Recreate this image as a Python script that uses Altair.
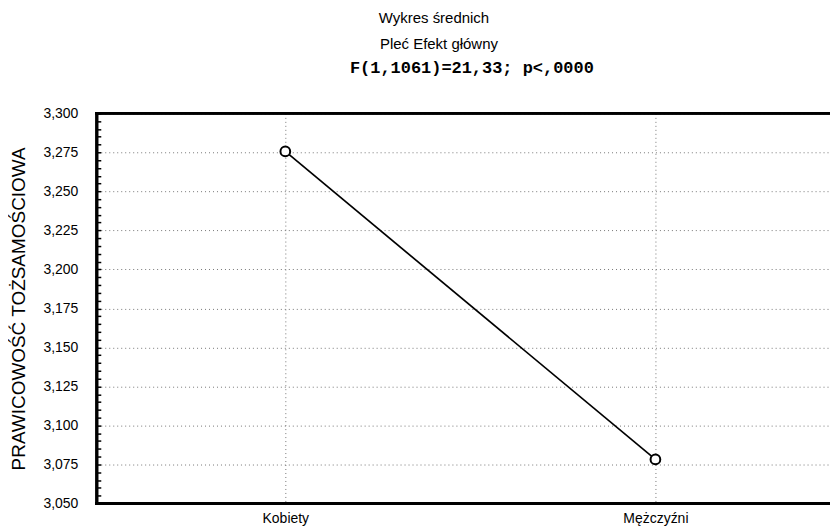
import altair as alt
import pandas as pd

categories = ["Kobiety", "Mężczyźni"]
means = [3.2756, 3.0782]
y_ticks = [3.050, 3.075, 3.100, 3.125, 3.150, 3.175, 3.200, 3.225, 3.250, 3.275, 3.300]
title_lines = ["Wykres średnich", "Pleć Efekt główny"]
stat_line = "F(1,1061)=21,33; p<,0000"

df = pd.DataFrame({"idx": list(range(len(categories))), "Płeć": categories, "Średnia": means})

W, H = 735, 391
label_expr = "datum.value == 0 ? '%s' : (datum.value == 1 ? '%s' : '')" % (categories[0], categories[1])
y_scale = alt.Scale(domain=[3.05, 3.30], nice=False, zero=False)

x_enc = alt.X(
    "idx:Q",
    scale=alt.Scale(domain=[-0.5094, 1.4717], nice=False, zero=False),
    axis=alt.Axis(
        title=None, values=[0, 1], labelExpr=label_expr, labelAngle=0,
        labelFont="Liberation Sans", labelFontSize=14, labelColor="black",
        tickSize=0, labelPadding=8, domain=False, grid=True,
        gridColor="#777777", gridDash=[1, 3], gridWidth=1, labelFlush=False,
    ),
)
y_enc = alt.Y(
    "Średnia:Q",
    scale=y_scale,
    axis=alt.Axis(
        title="PRAWICOWOŚĆ TOŻSAMOŚCIOWA", titleFont="Liberation Sans",
        titleFontSize=19, titleFontWeight="normal", titleColor="black",
        titlePadding=14, values=y_ticks, format=".3f", labelOverlap=False,
        labelExpr="replace(datum.label, '.', ',')",
        labelFont="Liberation Sans", labelFontSize=14, labelColor="black",
        tickSize=0, labelPadding=19, domain=False, grid=True,
        gridColor="#777777", gridDash=[1, 3], gridWidth=1,
    ),
)

line = alt.Chart(df).mark_line(color="black", strokeWidth=1.7).encode(x=x_enc, y=y_enc)
pts = alt.Chart(df).mark_point(
    shape="circle", filled=True, fill="white", stroke="black", strokeWidth=2,
    size=95, opacity=1,
).encode(x=x_enc, y=y_enc)

bar_style = dict(color="black", opacity=1, stroke=None)
top = alt.Chart(df).mark_rect(**bar_style).encode(
    x=alt.value(-1.5), x2=alt.value(W), y=alt.value(-1.5), y2=alt.value(1.5)
)
bottom = alt.Chart(df).mark_rect(**bar_style).encode(
    x=alt.value(-1.5), x2=alt.value(W), y=alt.value(H - 1.5), y2=alt.value(H + 1.5)
)
left = alt.Chart(df).mark_rect(**bar_style).encode(
    x=alt.value(-1.5), x2=alt.value(1.5), y=alt.value(-1.5), y2=alt.value(H + 1.5)
)

t1 = alt.Chart(pd.DataFrame({"t": [title_lines[0]]})).mark_text(
    font="Liberation Sans", fontSize=15, color="black", baseline="middle", align="center"
).encode(text="t:N", x=alt.value(338), y=alt.value(-96))
t2 = alt.Chart(pd.DataFrame({"t": [title_lines[1]]})).mark_text(
    font="Liberation Sans", fontSize=15, color="black", baseline="middle", align="center"
).encode(text="t:N", x=alt.value(343), y=alt.value(-70))
t3 = alt.Chart(pd.DataFrame({"t": [stat_line]})).mark_text(
    font="Liberation Mono", fontSize=17, fontWeight="bold", color="black",
    baseline="middle", align="center"
).encode(text="t:N", x=alt.value(376), y=alt.value(-45))

main = alt.layer(line, pts)

minor = alt.Chart(df).mark_point(opacity=0).encode(
    y=alt.Y(
        "Średnia:Q", scale=y_scale,
        axis=alt.Axis(
            orient="right", offset=-W, tickCount=50, labels=False, domain=False,
            grid=False, tickSize=4, tickColor="black", tickWidth=1.5, title=None,
        ),
    )
)

chart = alt.layer(main, minor, top, bottom, left, t1, t2, t3).resolve_scale(y="independent").properties(
    width=W, height=H,
    autosize=alt.AutoSizeParams(type="none"),
    padding={"left": 89, "top": 105, "right": 0, "bottom": 22},
).configure_view(stroke=None)

chart.save("out.html", embed_options={"renderer": "svg", "actions": False})
